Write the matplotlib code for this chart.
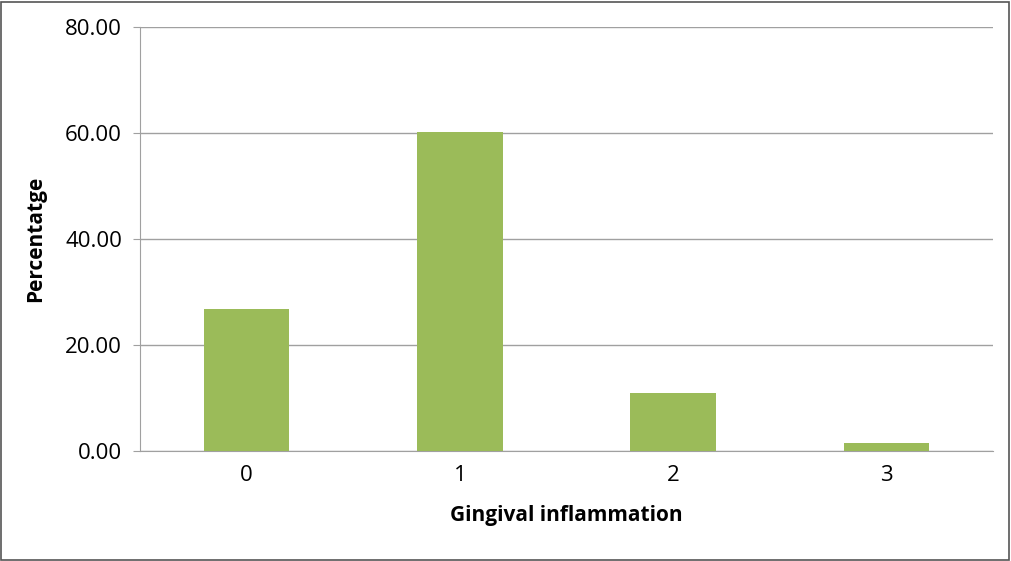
import matplotlib
matplotlib.use("Agg")
import matplotlib.pyplot as plt
from matplotlib.patches import Rectangle

categories = ["0", "1", "2", "3"]
values = [26.8, 60.2, 10.9, 1.5]
yticks = [0, 20, 40, 60, 80]

plt.rcParams["font.family"] = "Open Sans"
fig = plt.figure(figsize=(10.11, 5.61), dpi=100)
ax = fig.add_axes([140/1011, 110/561, 853/1011, 424/561])
x = range(len(categories))
ax.bar(x, values, width=0.4, color="#9BBB59", zorder=3)
ax.set_xlim(-0.5, 3.5)
ax.set_ylim(0, 80)
ax.set_yticks(yticks)
ax.set_yticklabels([f"{v:.2f}" for v in yticks], fontsize=16)
ax.set_xticks(list(x))
ax.set_xticklabels(categories, fontsize=16)
ax.yaxis.grid(True, color="#A0A0A0", linewidth=1, zorder=0)
for s in ["top", "right"]:
    ax.spines[s].set_visible(False)
ax.spines["left"].set_color("#A0A0A0")
ax.spines["bottom"].set_color("#A0A0A0")
ax.tick_params(axis="both", length=0, pad=10)
ax.tick_params(axis="y", length=5, color="#A0A0A0", direction="out", pad=8)
ax.set_xlabel("Gingival inflammation", fontsize=15, fontweight="bold", labelpad=14)
ax.set_ylabel("Percentatge", fontsize=15, fontweight="bold", labelpad=14)
fig.patches.append(Rectangle((0.001, 0.002), 0.997, 0.995, transform=fig.transFigure,
                             fill=False, edgecolor="#555555", linewidth=1.2))
fig.savefig("out.png", dpi=100)
